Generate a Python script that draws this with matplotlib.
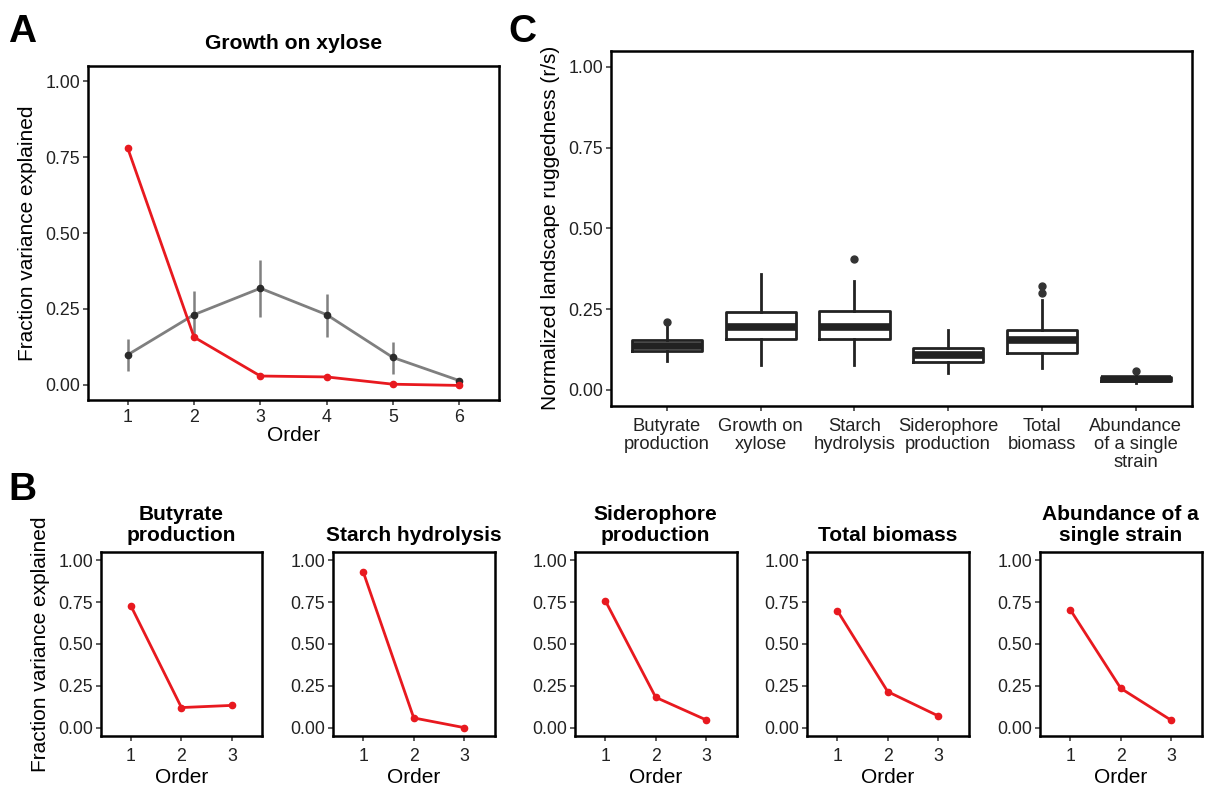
import matplotlib
matplotlib.use("Agg")
import matplotlib.pyplot as plt

plt.rcParams["font.family"] = ["Liberation Sans", "DejaVu Sans"]

RED = "#e8191f"
GRAY = "#7f7f7f"

# ---- panel A: growth on xylose -------------------------------------------
a_order = [1, 2, 3, 4, 5, 6]
a_red = [0.779, 0.157, 0.029, 0.026, 0.002, -0.002]
a_gray = [0.099, 0.231, 0.318, 0.231, 0.090, 0.014]
a_gray_lo = [0.044, 0.163, 0.223, 0.157, 0.036, 0.010]
a_gray_hi = [0.150, 0.308, 0.410, 0.300, 0.142, 0.018]

# ---- panel B: other traits, orders 1-3 -----------------------------------
b_titles = ["Butyrate\nproduction", "Starch hydrolysis", "Siderophore\nproduction",
            "Total biomass", "Abundance of a\nsingle strain"]
b_order = [1, 2, 3]
b_values = [
    [0.727, 0.120, 0.133],
    [0.930, 0.058, 0.000],
    [0.759, 0.181, 0.046],
    [0.700, 0.215, 0.070],
    [0.705, 0.235, 0.044],
]

# ---- panel C: ruggedness boxplots ----------------------------------------
c_labels = ["Butyrate\nproduction", "Growth on\nxylose", "Starch\nhydrolysis",
            "Siderophore\nproduction", "Total\nbiomass", "Abundance\nof a single\nstrain"]
c_whislo = [0.089, 0.076, 0.078, 0.053, 0.068, 0.022]
c_q1 = [0.120, 0.157, 0.157, 0.086, 0.114, 0.027]
c_med = [0.136, 0.196, 0.195, 0.107, 0.153, 0.033]
c_q3 = [0.155, 0.242, 0.245, 0.130, 0.186, 0.039]
c_whishi = [0.199, 0.359, 0.336, 0.186, 0.279, 0.045]
c_fliers = [[0.211], [], [0.406], [], [0.299, 0.321], [0.057]]

yticks = [0.0, 0.25, 0.5, 0.75, 1.0]
yticklabels = ["0.00", "0.25", "0.50", "0.75", "1.00"]

W, H = 1215, 787
fig = plt.figure(figsize=(W / 100, H / 100), dpi=100)


def px_axes(left, top, right, bottom):
    return fig.add_axes([left / W, 1 - bottom / H, (right - left) / W, (bottom - top) / H])


def style(ax):
    for s in ax.spines.values():
        s.set_linewidth(1.8)
        s.set_color("black")
    ax.tick_params(length=3.5, width=1.1, color="#333333", labelsize=12.8,
                   labelcolor="#222222", pad=2)
    ax.set_ylim(-0.05, 1.05)
    ax.set_yticks(yticks)
    ax.set_yticklabels(yticklabels)


# panel A
ax = px_axes(88, 66, 499, 400)
style(ax)
ax.vlines(a_order, a_gray_lo, a_gray_hi, color="#6a6a6a", lw=1.8, alpha=0.85, zorder=2)
ax.plot(a_order, a_gray, color=GRAY, lw=2.0, zorder=2)
ax.plot(a_order, a_gray, "o", color="#2b2b2b", ms=4.5, zorder=3)
ax.plot(a_order, a_red, color=RED, lw=2.0, marker="o", ms=4.5, zorder=4)
ax.set_xlim(0.4, 6.6)
ax.set_xticks(a_order)
ax.tick_params(axis="x", pad=3)
ax.set_xlabel("Order", fontsize=15, labelpad=0)
ax.set_ylabel("Fraction variance explained", fontsize=15, labelpad=6)
ax.set_title("Growth on xylose", fontsize=15.2, fontweight="bold", pad=12)

# panel B
b_lefts = [100.7, 333, 575, 807, 1040]
for i, (left, title, vals) in enumerate(zip(b_lefts, b_titles, b_values)):
    ax = px_axes(left, 552, left + 161.5, 736)
    style(ax)
    ax.plot(b_order, vals, color=RED, lw=2.0, marker="o", ms=4.5)
    ax.set_xlim(0.4, 3.6)
    ax.set_xticks(b_order)
    ax.tick_params(axis="x", pad=5)
    ax.set_xlabel("Order", fontsize=15, labelpad=2)
    ax.set_title(title, fontsize=15, fontweight="bold", pad=8, linespacing=1.15)
    if i == 0:
        ax.set_ylabel("Fraction variance explained", fontsize=15, labelpad=6)

# panel C
ax = px_axes(610.7, 50.7, 1192, 406)
style(ax)
stats = []
for lab, lo, q1, med, q3, hi, fl in zip(c_labels, c_whislo, c_q1, c_med, c_q3,
                                        c_whishi, c_fliers):
    stats.append({"label": lab, "whislo": lo, "q1": q1, "med": med, "q3": q3,
                  "whishi": hi, "fliers": fl})
ax.bxp(stats, positions=range(1, len(stats) + 1), widths=0.75, showcaps=False,
       boxprops={"linewidth": 2.0, "color": "#222222"},
       whiskerprops={"linewidth": 2.0, "color": "#222222"},
       medianprops={"linewidth": 5.5, "color": "#222222", "solid_capstyle": "butt"},
       flierprops={"marker": "o", "markersize": 5, "markerfacecolor": "#333333",
                   "markeredgecolor": "#333333"})
ax.set_xlim(0.4, 6.6)
ax.set_ylim(-0.05, 1.05)
ax.tick_params(axis="x", labelsize=13.2, pad=5)
for t in ax.get_xticklabels():
    t.set_linespacing(1.1)
ax.set_ylabel("Normalized landscape ruggedness (r/s)", fontsize=15, labelpad=6)

# panel letters
fig.text(8 / W, 1 - 42 / H, "A", fontsize=28, fontweight="bold")
fig.text(8 / W, 1 - 500 / H, "B", fontsize=28, fontweight="bold")
fig.text(508 / W, 1 - 42 / H, "C", fontsize=28, fontweight="bold")

fig.savefig("out.png", dpi=100)
